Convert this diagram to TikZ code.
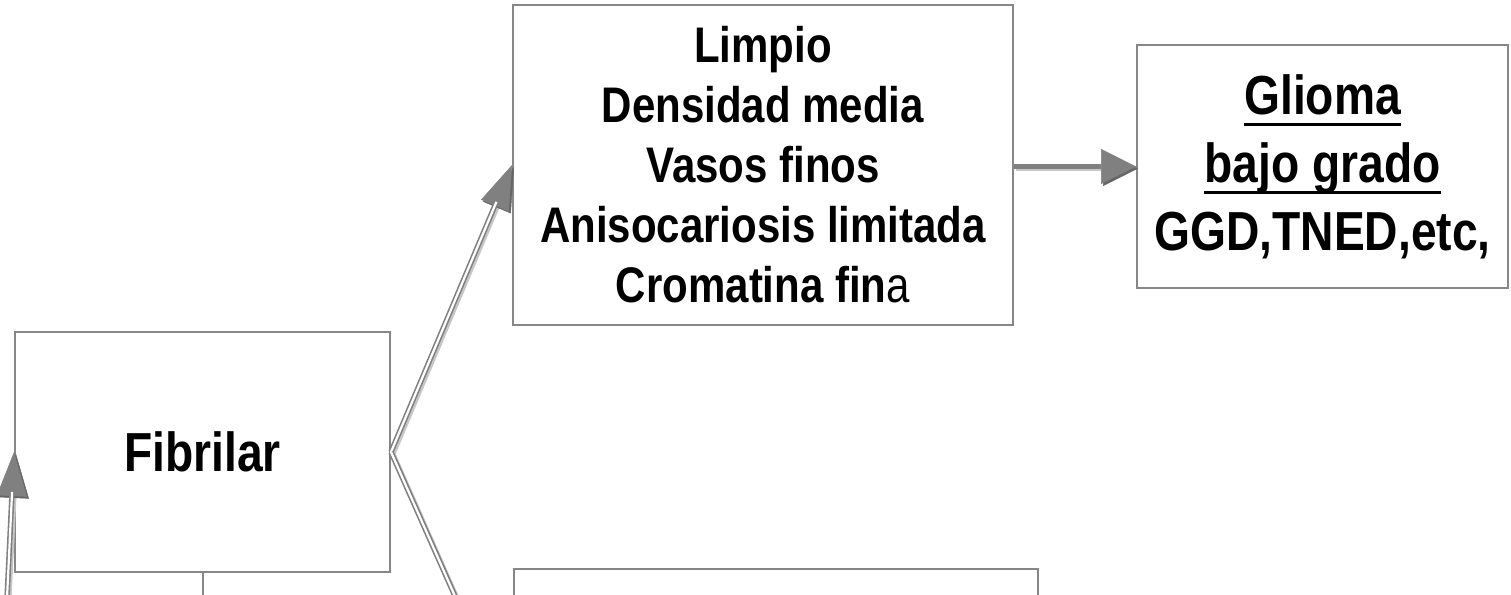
\documentclass[tikz,border=0pt]{standalone}
\usepackage{fontspec}
\setmainfont{Liberation Sans}[FakeStretch=0.84]
\usetikzlibrary{arrows.meta}
\definecolor{boxgray}{RGB}{135,135,135}
\definecolor{arrgray}{RGB}{128,128,128}
\newcommand\myul[1]{\setbox0\hbox{#1}\rlap{\rule[-12pt]{\wd0}{3.5pt}}\box0}
\begin{document}
\begin{tikzpicture}[x=1pt,y=-1pt,
  box/.style={draw=boxgray, line width=2pt, fill=white, rectangle, inner sep=0pt, align=center},
  plainline/.style={draw=boxgray, line width=2pt},
  shaft/.style={draw=arrgray, line width=1.6pt, double=white, double distance=2.2pt},
  shaftshadow/.style={draw=black!22, line width=5pt},
  head/.style={draw=arrgray, line width=0.5pt, -{Triangle[length=44pt,width=30pt,fill=arrgray,color=arrgray]}},
  headshadow/.style={draw=black!22, line width=0.5pt, -{Triangle[length=44pt,width=30pt,fill=black!60,color=black!60]}},
  rhead/.style={draw=arrgray, line width=5pt, -{Triangle[length=35pt,width=35pt,fill=arrgray,color=arrgray,line width=0.5pt]}},
  rheadshadow/.style={draw=black!22, line width=5pt, -{Triangle[length=35pt,width=35pt,fill=black!60,color=black!60,line width=0.5pt]}}
]
\useasboundingbox (0,0) rectangle (1511,594);

\node[box, minimum width=500pt, minimum height=320pt,
      font=\fontsize{50}{60}\selectfont\bfseries] (top) at (763,165)
  {Limpio\\Densidad media\\Vasos finos\\Anisocariosis limitada\\Cromatina fin{\mdseries a}};
\node[box, minimum width=371pt, minimum height=243pt,
      font=\fontsize{55}{68}\selectfont\bfseries] (res) at (1322.5,166.5)
  {\myul{Glioma}\\\myul{bajo grado}\\GGD,TNED,etc,};
\node[box, minimum width=375pt, minimum height=240pt,
      font=\fontsize{55}{66}\selectfont\bfseries] (fib) at (202.5,452) {Fibrilar};
\node[box, minimum width=524pt, minimum height=200pt, anchor=north west] (bot) at (513,568) {};

\coordinate (inl) at (5,640);
\coordinate (fibdown) at (202.5,610);
\coordinate (lowend) at (470,630);

% shadows
\begin{scope}[transform canvas={shift={(2pt,-2pt)}}]
  \draw[shaftshadow, shorten >=40pt] (inl) -- (fib.west);
  \draw[headshadow] (inl) -- (fib.west);
  \draw[shaftshadow, shorten >=40pt] (fib.east) -- (top.west);
  \draw[headshadow] (fib.east) -- (top.west);
  \draw[shaftshadow] (fib.east) -- (lowend);
  \draw[rheadshadow] (top.east |- res.west) -- (res.west);
\end{scope}

% connectors
\draw[plainline] (fib.south) -- (fibdown);
\draw[head] (inl) -- (fib.west);
\draw[shaft, shorten >=40pt] (inl) -- (fib.west);
\draw[head] (fib.east) -- (top.west);
\draw[shaft, shorten >=40pt] (fib.east) -- (top.west);
\draw[shaft] (fib.east) -- (lowend);
\draw[rhead] (top.east |- res.west) -- (res.west);
\end{tikzpicture}
\end{document}
